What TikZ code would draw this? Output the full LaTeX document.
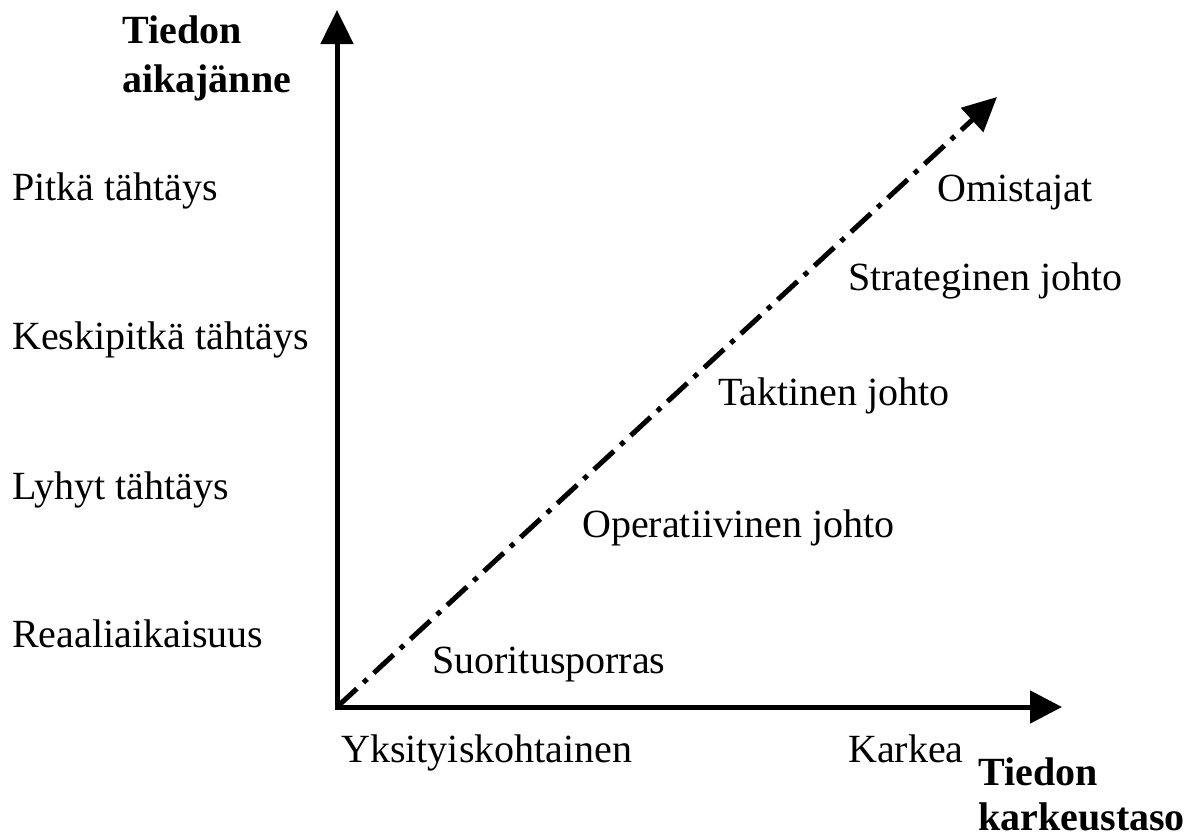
\documentclass[tikz,border=0pt]{standalone}
\usepackage{fontspec}
\setmainfont{Liberation Serif}
\usetikzlibrary{arrows.meta}
\begin{document}
\begin{tikzpicture}[x=1pt,y=-1pt,
  lbl/.style={anchor=base west,inner sep=0pt,font=\fontsize{40}{48}\selectfont},
  blbl/.style={anchor=base west,inner sep=0pt,font=\fontsize{40}{48}\selectfont\bfseries},
  axis/.style={line width=5pt,line join=miter},
  tipv/.style={Triangle[length=34pt,width=32pt]},
  diag/.style={line width=5pt,dash pattern=on 27pt off 9pt on 5pt off 9pt,-{Triangle[length=34pt,width=32pt]}}]
\useasboundingbox (0,0) rectangle (1195,838);
\coordinate (O) at (337,707);
\coordinate (ytip) at (337,10);
\coordinate (xtip) at (1062,707);
\coordinate (dtip) at (997,97);
\draw[axis,{Triangle[length=34pt,width=32pt]}-{Triangle[length=32pt,width=32pt]}] (ytip) -- (O) -- (xtip);
\draw[diag] (O) -- (dtip);
\node[blbl] (t1) at (122,43) {Tiedon};
\node[blbl] (t2) at (122,92) {aikajänne};
\node[lbl] (p) at (12,200) {Pitkä tähtäys};
\node[lbl] (k) at (12,349) {Keskipitkä tähtäys};
\node[lbl] (l) at (12,499) {Lyhyt tähtäys};
\node[lbl] (r) at (12,647) {Reaaliaikaisuus};
\node[lbl] (om) at (937,201) {Omistajat};
\node[lbl] (st) at (848,290) {Strateginen johto};
\node[lbl] (ta) at (718,405) {Taktinen johto};
\node[lbl] (op) at (582,537) {Operatiivinen johto};
\node[lbl] (su) at (432,673) {Suoritusporras};
\node[lbl] (yk) at (341,762) {Yksityiskohtainen};
\node[lbl] (ka) at (848,762) {Karkea};
\node[blbl] (b1) at (978,785) {Tiedon};
\node[blbl] (b2) at (978,830) {karkeustaso};
\end{tikzpicture}
\end{document}
